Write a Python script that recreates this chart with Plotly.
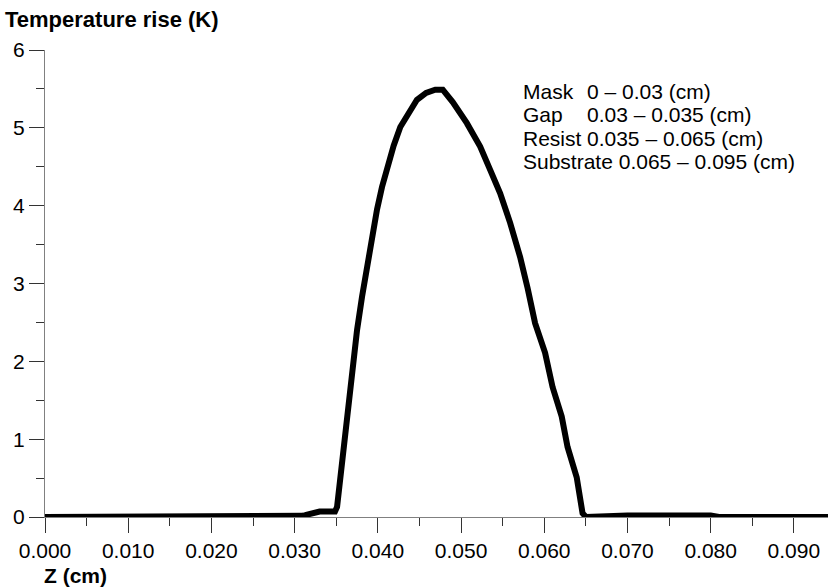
import plotly.graph_objects as go

# ---- data ----
z_cm = [0.000, 0.005, 0.010, 0.015, 0.020, 0.025, 0.030, 0.0310, 0.0315, 0.0325,
        0.0330, 0.0340, 0.03485, 0.0351, 0.0357, 0.0363, 0.0369, 0.0375, 0.0381,
        0.0387, 0.0393, 0.0399, 0.0405, 0.0411, 0.0419, 0.0427, 0.0437, 0.0447,
        0.0458, 0.0469, 0.0478, 0.0490, 0.0507, 0.0523, 0.0535, 0.0547, 0.0559,
        0.0571, 0.0580, 0.0589, 0.0601, 0.0610, 0.0621, 0.0628, 0.0639, 0.0646,
        0.0650, 0.0700, 0.0750, 0.0800, 0.0810, 0.0850, 0.0900, 0.0941]
temp_rise = [0.00, 0.00, 0.00, 0.00, 0.00, 0.00, 0.00, 0.015, 0.03, 0.05,
             0.07, 0.07, 0.07, 0.13, 0.69, 1.29, 1.89, 2.40, 2.83,
             3.21, 3.65, 3.95, 4.24, 4.50, 4.77, 5.01, 5.20, 5.36,
             5.45, 5.49, 5.49, 5.33, 5.06, 4.76, 4.46, 4.16, 3.78,
             3.34, 2.94, 2.49, 2.11, 1.67, 1.29, 0.90, 0.51, 0.05,
             0.00, 0.02, 0.02, 0.02, 0.00, 0.00, 0.00, 0.00]

x_ticks = [0.00, 0.01, 0.02, 0.03, 0.04, 0.05, 0.06, 0.07, 0.08, 0.09]
x_tick_labels = ["0.000", "0.010", "0.020", "0.030", "0.040",
                 "0.050", "0.060", "0.070", "0.080", "0.090"]
y_ticks = [0, 1, 2, 3, 4, 5, 6]
y_tick_labels = ["0", "1", "2", "3", "4", "5", "6"]

layer_names = ["Mask", "Gap", "Resist", "Substrate"]
layer_ranges = ["0 – 0.03 (cm)", "0.03 – 0.035 (cm)", "0.035 – 0.065 (cm)", "0.065 – 0.095 (cm)"]

# ---- figure ----
W, H = 828, 588
L, R, T, B = 45, 0, 50, 71
FONT = "Liberation Sans, Arial, Helvetica, sans-serif"
FS = 21

fig = go.Figure()
fig.add_trace(go.Scatter(
    x=z_cm, y=temp_rise, mode="lines",
    line=dict(color="black", width=6),
    showlegend=False, hoverinfo="skip",
))

pw, ph = W - L - R, H - T - B
def px(xp):
    return (xp - L) / pw
def py(yp):
    return (H - B - yp) / ph

annotations = [
    dict(text="<b>Temperature rise (K)</b>", xref="paper", yref="paper",
         x=px(3), y=py(20), xanchor="left", yanchor="middle", showarrow=False,
         font=dict(size=22, color="black", family=FONT)),
    dict(text="<b>Z (cm)</b>", xref="paper", yref="paper",
         x=px(42), y=py(575), xanchor="left", yanchor="middle", showarrow=False,
         font=dict(size=FS, color="black", family=FONT)),
]
line_y = [91, 114.5, 138, 161.5]
for i, (name, rng) in enumerate(zip(layer_names, layer_ranges)):
    if i < 3:
        annotations.append(dict(text=name, xref="paper", yref="paper",
                                x=px(521), y=py(line_y[i]), xanchor="left", yanchor="middle",
                                showarrow=False, font=dict(size=FS, color="black", family=FONT)))
        annotations.append(dict(text=rng, xref="paper", yref="paper",
                                x=px(585), y=py(line_y[i]), xanchor="left", yanchor="middle",
                                showarrow=False, font=dict(size=FS, color="black", family=FONT)))
    else:
        annotations.append(dict(text=name + " " + rng, xref="paper", yref="paper",
                                x=px(521), y=py(line_y[i]), xanchor="left", yanchor="middle",
                                showarrow=False, font=dict(size=FS, color="black", family=FONT)))

axis_common = dict(
    showgrid=False, zeroline=False, showline=True, linecolor="#808080", linewidth=1.2,
    ticks="outside", ticklen=15, tickwidth=1.2, tickcolor="#333333",
    tickfont=dict(size=FS, color="black", family=FONT),
)

fig.update_layout(
    width=W, height=H,
    margin=dict(l=L, r=R, t=T, b=B, autoexpand=False),
    paper_bgcolor="white", plot_bgcolor="white",
    font=dict(family=FONT, color="black"),
    xaxis=dict(range=[0, 0.0941], tickvals=x_ticks, ticktext=x_tick_labels,
               minor=dict(dtick=0.005, tick0=0, ticks="outside", ticklen=8,
                          tickwidth=1.2, tickcolor="#333333", showgrid=False),
               **axis_common),
    yaxis=dict(range=[0, 6], tickvals=y_ticks, ticktext=y_tick_labels,
               minor=dict(dtick=0.5, tick0=0, ticks="outside", ticklen=8,
                          tickwidth=1.2, tickcolor="#333333", showgrid=False),
               **axis_common),
    annotations=annotations,
)

fig.write_html("out.html", config={"displayModeBar": False},
               post_script="document.body.style.margin='0';document.body.style.overflow='hidden';")
